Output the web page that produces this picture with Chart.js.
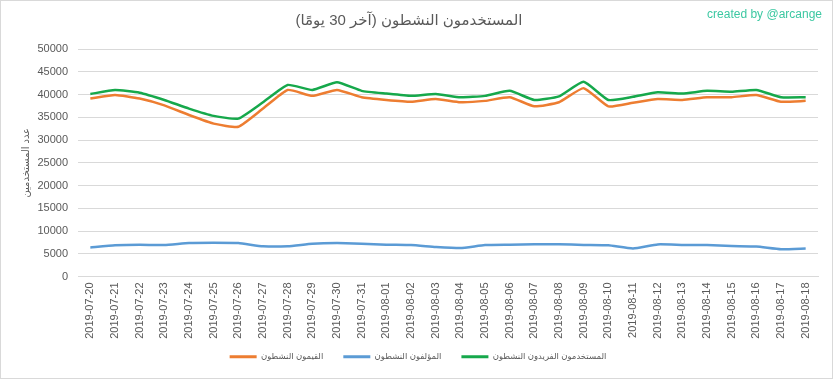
<!DOCTYPE html>
<html><head><meta charset="utf-8">
<script src="https://cdn.jsdelivr.net/npm/chart.js@4/dist/chart.umd.min.js"></script>
<style>html,body{margin:0;padding:0;background:#fff}#wrap{width:833px;height:379px;position:relative}</style>
</head><body><div id="wrap"><canvas id="c" width="833" height="379"></canvas></div>
<script>
const dates = ['2019-07-20','2019-07-21','2019-07-22','2019-07-23','2019-07-24','2019-07-25','2019-07-26','2019-07-27','2019-07-28','2019-07-29','2019-07-30','2019-07-31','2019-08-01','2019-08-02','2019-08-03','2019-08-04','2019-08-05','2019-08-06','2019-08-07','2019-08-08','2019-08-09','2019-08-10','2019-08-11','2019-08-12','2019-08-13','2019-08-14','2019-08-15','2019-08-16','2019-08-17','2019-08-18'];
const curators = [39100,39900,39100,37600,35500,33600,32900,36900,41000,39700,41000,39400,38800,38400,39000,38300,38600,39400,37400,38300,41400,37400,38200,39000,38800,39400,39400,39900,38400,38600];
const authors = [6400,6850,6980,6900,7340,7400,7340,6650,6650,7200,7340,7200,6980,6900,6500,6250,6900,7000,7100,7100,6950,6850,6150,7050,6950,6900,6700,6600,6000,6150];
const uniqueUsers = [40100,41000,40400,38800,36900,35300,34700,38300,42100,41000,42700,40800,40200,39700,40100,39400,39700,40800,38800,39600,42800,38800,39500,40500,40200,40800,40600,41000,39400,39400];
const seriesNames = ['القيمون النشطون','المؤلفون النشطون','المستخدمون الفريدون النشطون'];
const titleText = 'المستخدمون النشطون (آخر 30 يومًا)';
const yAxisTitle = 'عدد المستخدمين';
const creditText = 'created by @arcange';
const yMin = 0, yMax = 50000, yStep = 5000;

const FONT = "'Liberation Sans', 'DejaVu Sans', sans-serif";
const GRAY = '#595959';

const frame = {
  id: 'frame',
  afterLayout(chart) {
    const lg = chart.legend;
    if (lg) { lg.top -= 8; lg.bottom -= 8; lg.left += 9; lg.right += 9; }
  },
  beforeDraw(chart) {
    const ctx = chart.ctx;
    ctx.save();
    ctx.fillStyle = '#fff';
    ctx.fillRect(0, 0, chart.width, chart.height);
    ctx.strokeStyle = '#d9d9d9';
    ctx.lineWidth = 1;
    ctx.strokeRect(0.5, 0.5, chart.width - 1, chart.height - 1);
    ctx.restore();
  },
  afterDraw(chart) {
    const ctx = chart.ctx;
    ctx.save();
    ctx.font = "12px " + FONT;
    ctx.fillStyle = '#3cc8a2';
    ctx.textAlign = 'right';
    ctx.textBaseline = 'middle';
    ctx.fillText(creditText, 822, 15);
    ctx.restore();
  }
};

const mk = (label, data, color) => ({
  label, data, borderColor: color, backgroundColor: color,
  borderWidth: 2.5, pointRadius: 0, tension: 0.15, fill: false
});

new Chart(document.getElementById('c'), {
  type: 'line',
  data: {
    labels: dates,
    datasets: [
      mk(seriesNames[0], curators, '#ED7D31'),
      mk(seriesNames[1], authors, '#5B9BD5'),
      mk(seriesNames[2], uniqueUsers, '#16A84B')
    ]
  },
  options: {
    responsive: false,
    animation: false,
    devicePixelRatio: 1,
    layout: { padding: { left: 0, right: 15, top: 0, bottom: 0 } },
    plugins: {
      title: {
        display: true, text: titleText, color: GRAY,
        font: { size: 15, family: FONT, weight: 'normal' },
        padding: { top: 12, bottom: 19 }
      },
      legend: {
        position: 'bottom',
        labels: {
          boxWidth: 27, boxHeight: 3, padding: 20, color: GRAY,
          font: { size: 8.5, family: FONT },
          generateLabels(chart) {
            return Chart.defaults.plugins.legend.labels.generateLabels(chart).map(l => Object.assign(l, { lineWidth: 0 }));
          }
        }
      },
      tooltip: { enabled: false }
    },
    scales: {
      x: {
        offset: true,
        grid: { display: false, drawTicks: false },
        border: { display: true, color: '#d9d9d9' },
        ticks: {
          color: GRAY, font: { size: 11, family: FONT },
          maxRotation: 90, minRotation: 90, autoSkip: false, padding: 6
        },
        afterFit(s) { s.height = 64; }
      },
      y: {
        min: yMin, max: yMax,
        grid: { color: '#d9d9d9', drawTicks: false },
        border: { display: false },
        ticks: { stepSize: yStep, color: GRAY, font: { size: 11, family: FONT }, padding: 10,
          callback: (v) => String(v) },
        title: { display: true, text: yAxisTitle, color: GRAY, font: { size: 10, family: FONT }, padding: { top: 20, bottom: 0 } },
        afterFit(s) { s.width = 78; }
      }
    }
  },
  plugins: [frame]
});
</script>
</body></html>
